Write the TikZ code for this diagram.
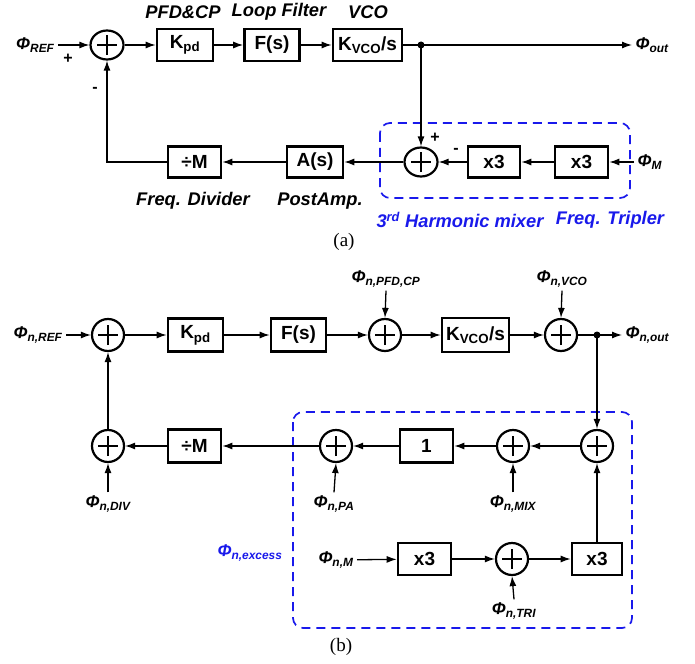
\documentclass[tikz,border=0pt]{standalone}
\usepackage{fontspec}
\setmainfont{Liberation Sans}
\newfontfamily\serifx{Liberation Serif}
\usetikzlibrary{arrows.meta,shapes.geometric}
\definecolor{dblue}{RGB}{25,25,235}
\begin{document}
\begin{tikzpicture}[x=1pt,y=-1pt,
 plusmark/.style={path picture={
   \draw[line width=1.1pt] ([xshift=-10pt]path picture bounding box.center) -- ([xshift=10pt]path picture bounding box.center);
   \draw[line width=1.1pt] ([yshift=-10pt]path picture bounding box.center) -- ([yshift=10pt]path picture bounding box.center);}},
 sumA/.style={ellipse,draw,line width=2.2pt,minimum width=33pt,minimum height=29pt,inner sep=0pt,plusmark},
 sumB/.style={circle,draw,line width=2.2pt,minimum size=32pt,inner sep=0pt,plusmark},
 blk/.style={draw,line width=2.6pt,minimum height=32pt,inner sep=0pt,font=\fontsize{19}{22}\selectfont\bfseries},
 lab/.style={font=\fontsize{17}{20}\selectfont\bfseries\itshape},
 tag/.style={font=\fontsize{18.3}{21}\selectfont\bfseries\itshape},
 pm/.style={font=\fontsize{16}{16}\selectfont\bfseries,inner sep=0pt},
 conn/.style={line width=1.3pt,-{Latex[length=10pt,width=7pt]}},
 dashbox/.style={draw=dblue,line width=1.7pt,dash pattern=on 9pt off 6pt,rounded corners=10pt}]
\useasboundingbox (0,0) rectangle (695,663);
% ---------------- (a) ----------------
\node[lab,anchor=east] (phiref) at (58,45) {Φ\textsubscript{REF}};
\node[sumA] (s1) at (107,45) {};
\node[blk,minimum width=56pt] (kpd) at (185,45) {K\textsubscript{pd}};
\node[blk,minimum width=55pt] (fs) at (272,45) {F(s)};
\node[blk,minimum width=69pt] (kvco) at (367.5,45) {K\textsubscript{VCO}/s};
\coordinate (dot1) at (421,45);
\node[lab,anchor=west] (phiout) at (632,45) {Φ\textsubscript{out}};
\node[tag] (lpfd) at (183,12) {PFD\&CP};
\node[tag] (llf) at (279,12) {Loop Filter};
\node[tag] (lvco) at (368,12) {VCO};
\draw[conn] (phiref) -- (s1);
\draw[conn] (s1) -- (kpd);
\draw[conn] (kpd) -- (fs);
\draw[conn] (fs) -- (kvco);
\draw[conn] (kvco.east) -- (phiout.west);
\fill (dot1) circle (3.5pt);
\node[pm] at (68,59) {+};
\node[pm] at (95,90) {-};
\draw[dashbox] (380,123) rectangle (630,198);
\node[blk,minimum width=53pt,minimum height=31pt] (divm) at (194.5,162) {÷M};
\node[blk,minimum width=56pt,minimum height=31pt] (as) at (315,162) {A(s)};
\node[sumA] (s2) at (421,162) {};
\node[blk,minimum width=52pt,minimum height=31pt] (x3a) at (494,162) {x3};
\node[blk,minimum width=53pt,minimum height=31pt] (x3b) at (581.5,162) {x3};
\node[lab,anchor=west] (phim) at (634,162) {Φ\textsubscript{M}};
\draw[conn] (phim.west) -- (x3b);
\draw[conn] (x3b) -- (x3a);
\draw[conn] (x3a) -- (s2);
\draw[conn] (s2) -- (as);
\draw[conn] (as) -- (divm);
\draw[conn] (divm.west) -| (s1.south);
\draw[conn] (dot1) -- (s2.north);
\node[pm] at (435,138) {+};
\node[pm] at (456,151) {-};
\node[tag] (lfd) at (193,201) {Freq. Divider};
\node[tag] (lpa) at (320,201) {PostAmp.};
\node[tag,text=dblue] (lhm) at (460,220) {3\textsuperscript{rd} Harmonic mixer};
\node[tag,text=dblue] (lft) at (610,220) {Freq. Tripler};
\node[font=\serifx\fontsize{19}{22}\selectfont] (capa) at (344,242) {(a)};
% ---------------- (b) ----------------
\node[lab,anchor=east] (phinref) at (66,335) {Φ\textsubscript{n,REF}};
\node[sumB] (sa) at (108,335) {};
\node[blk,minimum width=55pt,minimum height=33pt] (kpdb) at (195.5,335) {K\textsubscript{pd}};
\node[blk,minimum width=55pt,minimum height=33pt] (fsb) at (298.5,335) {F(s)};
\node[sumB] (sb) at (385,335) {};
\node[lab] (phipfd) at (386,279) {Φ\textsubscript{n,PFD,CP}};
\node[blk,minimum width=67pt,minimum height=34pt] (kvcob) at (475.5,335) {K\textsubscript{VCO}/s};
\node[sumB] (sc) at (561,335) {};
\node[lab] (phivco) at (562,279) {Φ\textsubscript{n,VCO}};
\coordinate (dot2) at (597,335);
\node[lab,anchor=west] (phinout) at (622,335) {Φ\textsubscript{n,out}};
\draw[conn] (phinref) -- (sa);
\draw[conn] (sa) -- (kpdb);
\draw[conn] (kpdb) -- (fsb);
\draw[conn] (fsb) -- (sb);
\draw[conn] (sb) -- (kvcob);
\draw[conn] (kvcob) -- (sc);
\draw[conn] (sc.east) -- (phinout.west);
\draw[conn] (phipfd.south) -- (sb.north);
\draw[conn] (phivco.south) -- (sc.north);
\fill (dot2) circle (3.5pt);
\draw[dashbox] (293,412) rectangle (632,628);
\node[sumB] (sd) at (108,446) {};
\node[blk,minimum width=53pt,minimum height=33pt] (divmb) at (194.5,446) {÷M};
\node[sumB] (se) at (336,446) {};
\node[blk,minimum width=53pt,minimum height=33pt] (one) at (426.5,446) {1};
\node[sumB] (sf) at (513,446) {};
\node[sumB] (sg) at (597,446) {};
\node[lab] (phidiv) at (108,504) {Φ\textsubscript{n,DIV}};
\node[lab] (phipa) at (334,504) {Φ\textsubscript{n,PA}};
\node[lab] (phimix) at (513,504) {Φ\textsubscript{n,MIX}};
\draw[conn] (dot2) -- (sg.north);
\draw[conn] (sg) -- (sf);
\draw[conn] (sf) -- (one);
\draw[conn] (one) -- (se);
\draw[conn] (se) -- (divmb);
\draw[conn] (divmb) -- (sd);
\draw[conn] (sd) -- (sa);
\draw[conn] (phidiv.north) -- (sd.south);
\draw[conn] (phipa.north) -- (se.south);
\draw[conn] (phimix.north) -- (sf.south);
\node[lab,anchor=east] (phinm) at (357,560) {Φ\textsubscript{n,M}};
\node[blk,minimum width=53pt,minimum height=32pt] (x3c) at (424.5,559) {x3};
\node[sumB] (sh) at (512,559) {};
\node[lab] (phitri) at (514,611) {Φ\textsubscript{n,TRI}};
\node[blk,minimum width=50pt,minimum height=32pt] (x3d) at (597,559) {x3};
\draw[conn] (phinm) -- (x3c);
\draw[conn] (x3c) -- (sh);
\draw[conn] (sh) -- (x3d);
\draw[conn] (phitri.north) -- (sh.south);
\draw[conn] (x3d.north) -- (sg.south);
\node[lab,text=dblue] (phiex) at (250,553) {Φ\textsubscript{n,excess}};
\node[font=\serifx\fontsize{19}{22}\selectfont] (capb) at (341,647) {(b)};
\end{tikzpicture}
\end{document}
